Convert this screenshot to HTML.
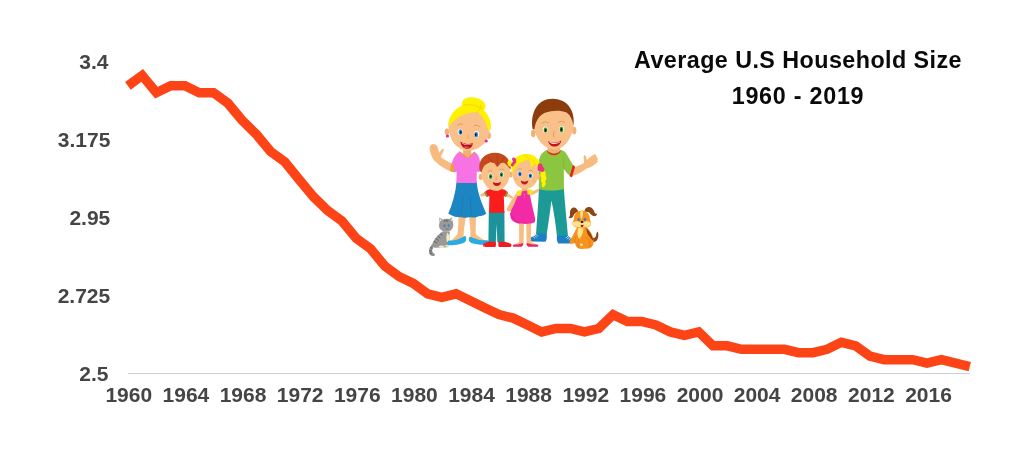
<!DOCTYPE html>
<html><head><meta charset="utf-8"><title>Average U.S Household Size</title>
<style>
html,body{margin:0;padding:0;background:#fff;}
body{width:1024px;height:457px;position:relative;overflow:hidden;font-family:"Liberation Sans",sans-serif;font-weight:bold;}
.yl,.xl,.title{filter:blur(0.35px);}
.yl{position:absolute;width:80px;text-align:center;font-size:21px;line-height:24px;height:24px;color:#454545;white-space:nowrap;}
.xl{position:absolute;top:383px;width:60px;text-align:center;font-size:21px;line-height:24px;height:24px;color:#454545;white-space:nowrap;}
.title{position:absolute;left:598px;width:400px;text-align:center;color:#0a0a0a;font-size:23.3px;letter-spacing:0.45px;line-height:36px;white-space:nowrap;}
#axis{position:absolute;left:127.5px;top:373px;width:842px;height:1px;background:#cfcfcf;}
svg{position:absolute;left:0;top:0;}
</style></head><body>
<div id="axis"></div>
<div class="yl" style="left:53.85px;top:50.00px">3.4</div>
<div class="yl" style="left:44.15px;top:128.00px">3.175</div>
<div class="yl" style="left:49.85px;top:205.75px">2.95</div>
<div class="yl" style="left:43.95px;top:283.55px">2.725</div>
<div class="yl" style="left:53.85px;top:361.55px">2.5</div>

<div class="xl" style="left:98.8px">1960</div>
<div class="xl" style="left:155.9px">1964</div>
<div class="xl" style="left:213.0px">1968</div>
<div class="xl" style="left:270.2px">1972</div>
<div class="xl" style="left:327.3px">1976</div>
<div class="xl" style="left:384.4px">1980</div>
<div class="xl" style="left:441.5px">1984</div>
<div class="xl" style="left:498.6px">1988</div>
<div class="xl" style="left:555.8px">1992</div>
<div class="xl" style="left:612.9px">1996</div>
<div class="xl" style="left:670.0px">2000</div>
<div class="xl" style="left:727.1px">2004</div>
<div class="xl" style="left:784.2px">2008</div>
<div class="xl" style="left:841.4px">2012</div>
<div class="xl" style="left:898.5px">2016</div>

<div class="title" style="top:42px">Average U.S Household Size</div>
<div class="title" style="top:78px;letter-spacing:0.75px">1960 - 2019</div>
<svg width="1024" height="457" viewBox="0 0 1024 457">
<polyline fill="none" stroke="#fd4417" stroke-width="9.5" stroke-linejoin="miter" stroke-miterlimit="10" stroke-linecap="butt" points="127.9,85.8 142.2,75.4 156.4,92.7 170.7,85.8 185.0,85.8 199.2,92.7 213.5,92.7 227.8,103.1 242.1,120.4 256.3,134.3 270.6,151.6 284.9,162.0 299.1,179.4 313.4,196.7 327.7,210.6 341.9,221.0 356.2,238.3 370.5,248.7 384.8,266.1 399.0,276.5 413.3,283.4 427.6,293.8 441.8,297.3 456.1,293.8 470.4,300.7 484.6,307.7 498.9,314.6 513.2,318.1 527.5,325.0 541.7,331.9 556.0,328.5 570.3,328.5 584.5,331.9 598.8,328.5 613.1,314.6 627.4,321.5 641.6,321.5 655.9,325.0 670.2,331.9 684.4,335.4 698.7,331.9 713.0,345.8 727.2,345.8 741.5,349.3 755.8,349.3 770.0,349.3 784.3,349.3 798.6,352.7 812.9,352.7 827.1,349.3 841.4,342.3 855.7,345.8 869.9,356.2 884.2,359.7 898.5,359.7 912.8,359.7 927.0,363.1 941.3,359.7 955.6,363.1 969.8,366.6"/>
<defs><filter id="soft" x="-5%" y="-5%" width="110%" height="110%"><feGaussianBlur stdDeviation="0.45"/></filter></defs>
<g id="family" filter="url(#soft)">

<!-- ================= CAT ================= -->
<g id="cat">
  <path d="M433.4,243.6 C430.4,245.6 428.4,249.4 429.2,253 C429.8,255.8 432.8,256.8 434.6,255.4 C435.4,254.6 434.8,253.6 433.8,253.4 C432.4,252.8 431.8,250.8 432.4,249 C433,247.4 434.4,246.4 435.6,245.6 Z" fill="#8f8f8f"/>
  <path d="M443,231.2 C439,233.6 434.6,238.4 432.8,242.6 C431.6,245.6 432.4,247.6 435,247.8 L447.4,247.2 C449.4,246.4 449.6,243.6 449.2,240 L449.8,231.4 Z" fill="#999999"/>
  <path d="M447.4,232.4 C446,235.4 446,239.6 447.2,242.6 C448.8,241.6 449.6,238.6 449.4,235.4 Z" fill="#f3ecb8"/>
  <path d="M438.6,246.4 C440,245.2 443.2,245.2 444.2,246.6 C443.6,248.2 439.6,248.4 438.6,246.4 Z M444.6,245.6 C445.6,244.6 448.6,244.8 449.2,246 C448.4,247.2 445.6,247.2 444.6,245.6 Z" fill="#f3ecb8"/>
  <path d="M439.6,222.4 L439.2,217.6 L442.6,219.6 C444.8,218.6 447.6,218.6 449.6,219.2 L451.6,217.2 L452.8,221.8 C454,225 453.2,229.2 450.2,230.8 C446.6,232.4 441.6,231.6 439.8,228.6 C438.8,226.6 438.8,224.2 439.6,222.4 Z" fill="#9a9a9a"/>
  <path d="M439.8,218.8 L441.8,220.2 L440.2,221.4 Z M451.4,218.4 L452.2,221 L450.4,220.2 Z" fill="#f3ecb8"/>
  <ellipse cx="444.5" cy="225.8" rx="1.2" ry="1.5" fill="#5a7fb8"/><ellipse cx="448.7" cy="225.4" rx="1.1" ry="1.5" fill="#5a7fb8"/>
  <path d="M445.6,228.6 Q447,229.8 448.6,228.4" stroke="#555" stroke-width="0.5" fill="none"/>
  <path d="M435.6,238.6 L438.6,240.4 M434,241.2 L437,243 M437.6,236 L440.4,238 M440,233.6 L442.6,235.4 M444.4,220 L445,221.8 M446.2,219.6 L446.4,221.6 M448,219.8 L447.6,221.6" stroke="#5c5c5c" stroke-width="0.9" fill="none"/>
  <path d="M430,247.4 L432.6,248.6 M429.2,250.6 L432,251 M429.8,253.6 L432.4,253" stroke="#5c5c5c" stroke-width="0.8"/>
</g>

<!-- ================= MOM ================= -->
<g id="mom">
  <!-- raised left arm + hand -->
  <path d="M451.6,172 C445.4,169.6 439.4,165.6 434.6,160.8 L439,155.6 C443.4,159.4 448.4,162.4 454,164.4 Z" fill="#f7bb80"/>
  <path d="M434.4,161 C431.6,157.4 429.8,152.6 429.6,148.6 C429.5,146.2 430.6,144.6 432.4,144.2 C434.6,143.8 436.6,145 437.6,147 C438.4,148.8 438.8,151 439,152.8 C440,151.4 441.2,149.8 442.4,149 C443.6,148.4 444.4,149.4 443.8,150.6 C442.4,153.2 441.6,156.2 439.6,158.2 Z" fill="#f7bb80"/>
  <path d="M432,145.6 L433.4,150 M434.6,145 L435.6,149.6" stroke="#e9a86c" stroke-width="0.5" fill="none"/>
  
  <!-- legs -->
  <path d="M458.4,214 L466,214 C465.6,222 463.4,229 463.6,236.5 L457,240.4 L449.5,242 C452,239 455.6,237 457.2,234.4 C458.6,228 458.4,221 458.4,214 Z" fill="#f8bd83"/>
  <path d="M468.8,214 L476,214 C476,222 475.4,229 475.8,234 C478.8,237 483.4,239.4 487,242 L476,242 L470,238.6 C471.4,230 469.2,222 468.8,214 Z" fill="#f8bd83"/>
  <!-- shoes -->
  <path d="M465.4,235.8 C466.8,238.6 466.4,241.6 464.2,242.8 C459,245 452.6,245.8 448.4,245 C446.6,244 447,241.4 449.2,240.6 C452.6,240.8 457.4,239.6 460.2,238.2 C462.4,237.2 464.2,236.4 465.4,235.8 Z" fill="#29abe2"/>
  <path d="M469.4,236.8 C468.2,239.4 468.8,242 471.2,243 C476.6,244.8 483.6,245.2 488.2,244.4 C489.8,243.4 489.4,241 487.2,240.2 C483.4,240.6 478,239.8 475,238.4 C473,237.6 471,237.2 469.4,236.8 Z" fill="#29abe2"/>
  <!-- skirt -->
  <path d="M456.6,181.5 L476.6,181.5 C477.6,193 482,204 486.2,213.4 C483,216.6 479.6,215.4 476.8,217 C473.6,218.4 470.6,216.4 467.4,217.6 C464,218.6 461,216.4 458,217 C454.6,217.4 451.4,215.4 448.3,213.6 C452.4,204 455.6,193 456.6,181.5 Z" fill="#1f86c2"/>
  <path d="M463,196 L461.4,215.8 M470,196 L471.4,216" stroke="#1a73a8" stroke-width="0.6" fill="none"/>
  <!-- neck -->
  <path d="M463.4,146 L471,146 L471.4,155 C469,157.6 465.6,157.6 463,155 Z" fill="#f2b074"/>
  <!-- shirt -->
  <path d="M460,151.4 L467.8,157.2 L474.2,151.8 C476.6,153 478.4,155.2 479.4,158.4 C480.2,162.4 480.6,167 480.4,171 C479.2,172 477.8,172.2 476.8,171.6 L476.6,183 L456.4,183 L456.6,171.6 C454.6,172.6 452,172.2 450.6,170.8 C450.8,167.4 451.4,164 452.6,160.8 C454,156.4 456.6,153 460,151.4 Z" fill="#f772e2"/>
  <path d="M459.6,151.2 L467.8,157.4 L474.6,151.6 L475.2,152.6 L467.8,158.8 L459,152.2 Z" fill="#e8a525"/>
  <path d="M450.8,164.4 L454,165.2 C453.6,167.4 453.6,169.8 454,172.2 C452.6,172.2 451.2,171.6 450.4,170.8 C450.4,168.6 450.6,166.4 450.8,164.4 Z" fill="#e8a525"/>
  <!-- head -->
  <ellipse cx="446.9" cy="131.8" rx="2.2" ry="3.4" fill="#f2b074"/>
  <ellipse cx="488.7" cy="135.6" rx="2.2" ry="3.4" fill="#f2b074"/>
  <path d="M448.4,124 C448.6,116 456,108 468,108 C480,108 489.6,117 489.6,129 C489.6,141 480,151 467.4,150.6 C456,150.2 448,138 448.4,124 Z" fill="#f9c089"/>
  <circle cx="447.5" cy="136" r="1.6" fill="#ef1fa6"/><circle cx="486.2" cy="141" r="1.6" fill="#ef1fa6"/>
  <!-- hair -->
  <path d="M462,105.4 C460.6,100.6 465.6,97 471.4,97.2 C478.6,97.4 486,101 485.6,106.4 C485.4,108 484.6,109.2 483.6,110 C488,114 491.4,121 491,127.6 C490.8,129.4 489.6,130.6 488.4,130.4 C486.6,123 482.6,116 477.6,112 C466,112.4 455,117 449.4,126.4 L448.6,124 C449,116 454.6,108.6 462,105.4 Z" fill="#fff100"/>
  <path d="M463,105.6 C468,103.6 476,104.4 482.6,109.4 M477.4,112 C480,110 481,107.4 480.6,104.6" stroke="#e9cf00" stroke-width="0.7" fill="none"/>
  <!-- face features -->
  <path d="M457,125.6 Q460,122.6 463.2,124.4 M474,125.6 Q477.4,124.2 480.4,127" stroke="#d89a5c" stroke-width="0.9" fill="none"/>
  <ellipse cx="460.1" cy="131.8" rx="2.5" ry="3.1" fill="#fff"/><ellipse cx="476.6" cy="134.2" rx="2.5" ry="3.1" fill="#fff"/>
  <ellipse cx="460.4" cy="132" rx="1.9" ry="2.7" fill="#2b8ae0"/><ellipse cx="476.2" cy="134.4" rx="1.9" ry="2.7" fill="#2b8ae0"/>
  <ellipse cx="460.8" cy="132.4" rx="0.9" ry="1.4" fill="#111"/><ellipse cx="475.8" cy="134.8" rx="0.9" ry="1.4" fill="#111"/>
  <path d="M468.6,134.4 Q466.6,138.2 468.6,138.8" stroke="#e3a066" stroke-width="0.8" fill="none"/>
  <path d="M460.4,141.6 C463.6,144.2 469,145 472.8,143 C472.6,147 469.8,149.2 466.4,148.8 C463.2,148.4 460.8,145.4 460.4,141.6 Z" fill="#b80f18"/>
  <path d="M463.4,147 C465,146 467.6,146.2 469.4,147.4 C468,148.8 465,148.8 463.4,147 Z" fill="#f0484a"/>
  <path d="M461.8,142.8 C464.6,144.6 468.6,145.2 471.8,144 L471.6,144.5 C468.6,145.6 464.6,145.2 462,143.4 Z" fill="#fff" opacity="0.8"/>
</g>

<!-- ================= DAD ================= -->
<g id="dad">
  <!-- legs -->
  <path d="M538.9,188 L563.8,188 C565,204 566.6,221 568,236.4 L557,236.4 C555.6,224 553.8,211 551.4,200.6 C550,212 548.4,224 546.6,235 L536,234.6 C537,219 538.4,204 538.9,188 Z" fill="#1b9a96"/>
  <!-- shoes -->
  <path d="M546.4,233.8 C547.4,236.6 546.8,240 545.4,241.8 L532,241.4 C529.6,240.6 529.4,238.4 531.2,237.2 C534,235.6 536.2,234.4 537.4,233.4 Z" fill="#1f7fc4"/>
  <path d="M557,235.6 C556.4,238.4 557,241.8 558.2,243.4 L572.2,243.4 C574.6,242.6 574.8,240.2 573,239 C570.4,237.6 568.6,236.4 567.8,235.4 Z" fill="#1f7fc4"/>
  <path d="M532.4,236 L535,238.4 M534,235 L536.6,237.4 M535.8,234.2 L538,236.4 M571.2,237.8 L568.8,240 M569.6,236.8 L567.2,239 M568,236 L565.8,238" stroke="#fff" stroke-width="0.7"/>
  <!-- waving arm -->
  <path d="M572.6,167.6 C576.6,166.6 581,164.8 584.4,162.4 L588,167.6 C583.4,171.4 577,175 570.6,176.6 Z" fill="#f7bb80"/>
  <path d="M584,163.2 C584.2,160.6 583.6,158.2 583.6,156.4 C583.8,154.8 585.6,154.8 586,156.4 L587,160 C589,157.6 591.8,155.4 594.2,154.4 C595.8,154 596.6,155.2 595.8,156.2 C597.2,156 597.8,157.2 597,158.2 C598,158.4 598.2,159.6 597.4,160.4 C598,161 597.8,162 597,162.6 C594.6,165 591,167.6 587.8,168.2 Z" fill="#f7bb80"/>
  <!-- neck -->
  <path d="M547.6,144 L560,144 L560.4,152 C557,155.4 551,155.4 547.4,152 Z" fill="#f2b074"/>
  <!-- shirt -->
  <path d="M546.8,150 C550,154.6 557.6,154.8 560.8,150 C563.6,150.4 565.6,152 566.8,154.4 L573.6,166 L570.4,176.4 C568,174.6 565.6,171.6 563.8,169 L564,189 C556,191 546,191 538.8,189 L539,162 C539,156 542.4,152 546.8,150 Z" fill="#8cc63f"/>
  <path d="M546.6,149.8 C550,154.8 557.6,155 561,149.8 L560.2,152 C557,156.4 550.6,156.2 547.4,152 Z" fill="#e2281f"/>
  <path d="M572.8,165 L575.2,166.4 L572,177.6 L569.6,176.2 Z" fill="#e2281f"/>
  <path d="M563.8,169 L563.4,158" stroke="#78b02f" stroke-width="0.6"/>
  <!-- head -->
  <ellipse cx="533.2" cy="133.6" rx="2.2" ry="3.8" fill="#f2b074"/>
  <ellipse cx="574.2" cy="130.6" rx="2.2" ry="3.8" fill="#f2b074"/>
  <path d="M533.6,122 C534,108 543,103 553.4,103 C564,103 573.4,108 573.6,122 C573.8,136 565.6,149.2 554.4,149.2 C542.6,149.2 533.4,136 533.6,122 Z" fill="#f9c089"/>
  <!-- hair -->
  <path d="M532.6,129 C530,112 538,98.8 552.6,98.8 C566.6,98.8 575.6,110 573.4,125.6 C572.4,119.6 570.4,115.4 566.6,112.6 C560,109.6 551,110.6 545.6,112.6 C540,114.6 535.6,120 534.4,129.6 Z" fill="#8b3d10"/>
  <!-- features -->
  <path d="M541.6,123.6 Q545.2,120.4 548.8,122.8 M558,122.4 Q561.8,120 565.2,122.6" stroke="#d89a5c" stroke-width="0.9" fill="none"/>
  <ellipse cx="545.2" cy="129.8" rx="2.3" ry="3.2" fill="#fff"/><ellipse cx="561.7" cy="129.2" rx="2.3" ry="3.2" fill="#fff"/>
  <ellipse cx="545.4" cy="130" rx="1.8" ry="2.8" fill="#2ba33a"/><ellipse cx="561.5" cy="129.4" rx="1.8" ry="2.8" fill="#2ba33a"/>
  <ellipse cx="545.6" cy="130.2" rx="0.9" ry="1.5" fill="#111"/><ellipse cx="561.3" cy="129.6" rx="0.9" ry="1.5" fill="#111"/>
  <path d="M554.6,130.6 Q552.2,136 554.4,137.6" stroke="#dd9a60" stroke-width="0.9" fill="none"/>
  <path d="M548.2,141 C551.6,143.4 557.6,143.4 561.2,140.6 C560.6,144.6 557.8,146.6 554.6,146.6 C551.4,146.6 548.8,144.6 548.2,141 Z" fill="#c4121a"/>
  <path d="M549.4,141.8 C552.4,143.6 557,143.6 560,141.6 L559.6,142.6 C556.8,144.4 552.6,144.4 549.8,142.8 Z" fill="#fff"/>
</g>

<!-- ================= BOY ================= -->
<g id="boy">
  <!-- arms -->
  <path d="M485.2,192 L481,194 C479.8,195 480.2,196.8 481.8,196.6 L486,195.8 Z" fill="#f7bb80"/>
  <path d="M506.4,192.4 L512.6,196.4 C513.6,197.4 513,198.8 511.6,198.4 L505.8,196.2 Z" fill="#f7bb80"/>
  <!-- pants -->
  <path d="M488.8,211 L504.4,211 L504.6,242.6 L497.4,242.6 L496.6,224 L495.8,242.6 L488.4,242.6 Z" fill="#1b939b"/>
  <!-- shoes -->
  <path d="M488,241.8 L495.6,241.8 C496.2,243.6 496.2,245.4 495.4,246.9 L483.8,246.9 C482.4,246 482.6,244.2 484,243.4 Z" fill="#f01d24"/>
  <path d="M498.6,241.8 L505,241.8 L510.4,243.6 C511.8,244.4 512,246 510.8,246.9 L498.8,246.9 C498.2,245.4 498.2,243.6 498.6,241.8 Z" fill="#f01d24"/>
  <path d="M483.6,245 L485,246.8 L483.8,246.8 Z M510.6,246.8 L512,246.8 L511.4,245.2 Z" fill="#fff"/>
  <!-- neck -->
  <rect x="493" y="187.6" width="6" height="4.6" fill="#f2b074"/>
  <!-- shirt -->
  <path d="M492.4,189 C494.4,191.6 498.6,191.6 500.6,189 C503.6,189 506.2,190.2 507.8,192.4 L506,197 L503.8,196 L504.4,212.8 L489,212.8 L489.4,196 L486.6,197 L484.4,192.4 C486.2,190.2 489,189 492.4,189 Z" fill="#fb1c1c"/>
  <path d="M484.2,192.4 L485.4,191.6 L487.6,196.2 L486.4,197 Z M508,192.4 L506.8,191.6 L504.8,196 L506,196.8 Z" fill="#7ea83a"/>
  <!-- head -->
  <ellipse cx="480.6" cy="177" rx="2" ry="3" fill="#f2b074"/><ellipse cx="510.6" cy="174.6" rx="2" ry="3" fill="#f2b074"/>
  <path d="M481.4,172 C481.6,162 488,158 495.6,158 C503.4,158 510,162 510,172 C510,182.6 503.6,190.8 496,190.8 C488,190.8 481.4,182.6 481.4,172 Z" fill="#f9c089"/>
  <!-- hair -->
  <path d="M481.6,172.4 C480.4,171.6 479.6,170.6 479.4,169.4 C478,160 484.6,152.8 495.2,152.8 C504.6,152.8 511.6,159.6 510.6,169.8 C509.8,168.6 508.8,167.2 507.6,166 C506.6,164.6 505.4,163.6 504.2,163 C503.2,162.6 502,162.6 501,163 C499.8,164.4 498.4,166 497,167 C496.2,165.6 495.2,164 494,163 C492.4,162.2 490.6,162.2 489,162.8 C487,163.6 485.2,164.8 484,166.2 C482.8,168 482,170.2 481.6,172.4 Z" fill="#c4491a"/>
  <path d="M488,157 C490,159 491.6,161 492.6,163 M497,155 C497.6,158 497.6,161.6 497,165 M503.6,157.6 C503,159.6 502,161.6 501,163" stroke="#a83a10" stroke-width="0.7" fill="none"/>
  <!-- features -->
  <path d="M487.6,171.6 Q490,169.8 492.4,171.2 M499,169.8 Q501.6,168.2 504,169.8" stroke="#d89a5c" stroke-width="0.8" fill="none"/>
  <ellipse cx="490.5" cy="176.4" rx="2.1" ry="2.9" fill="#fff"/><ellipse cx="501.6" cy="174.4" rx="2.1" ry="2.9" fill="#fff"/>
  <ellipse cx="490.6" cy="176.6" rx="1.7" ry="2.5" fill="#2b9a44"/><ellipse cx="501.5" cy="174.6" rx="1.7" ry="2.5" fill="#2b9a44"/>
  <ellipse cx="490.8" cy="176.6" rx="0.7" ry="1.1" fill="#111"/><ellipse cx="501.3" cy="174.8" rx="0.7" ry="1.1" fill="#111"/>
  <path d="M496.6,176.6 Q495.2,179.6 496.8,180.2" stroke="#dd9a60" stroke-width="0.7" fill="none"/>
  <path d="M492.8,182 C495,183.6 498.8,183.4 501,181.4 C500.8,184.4 499,186 496.8,186 C494.6,186 493,184.4 492.8,182 Z" fill="#c4121a"/>
</g>

<!-- ================= GIRL ================= -->
<g id="girl">
  <!-- arms -->
  <path d="M516.4,193 C513,197.4 509.6,203 507.4,207.4 C506.2,209.6 507,211.8 509.2,211.6 C511,211.4 512,210.2 512,208.8 C514,204.4 517,199.8 520,196.2 Z" fill="#f7bb80"/>
  <path d="M530,192.6 L538.4,188.8 L539.4,191.2 L531.4,195.6 Z" fill="#f7bb80"/>
  <!-- legs -->
  <path d="M519,222 L524,222 L523.6,243.4 L518.2,244.8 L514,245 C515.6,243.6 518.2,243 519.2,241.6 Z" fill="#f8bd83"/>
  <path d="M526.2,222 L531.2,222 L531,241.6 C532.4,243.2 535,243.8 537,245 L532,245 L526.6,243.4 Z" fill="#f8bd83"/>
  <!-- shoes -->
  <path d="M523.2,243 C523.4,244.6 522.8,246 521.6,246.8 L513.4,246.8 C512.4,246 512.8,244.8 514,244.4 C517,244.8 520.6,244 523.2,243 Z" fill="#e8265c"/>
  <path d="M526.6,243 C526.4,244.6 527,246 528.2,246.8 L537.8,246.8 C538.8,246 538.4,244.8 537.2,244.4 C534,244.8 529.4,244 526.6,243 Z" fill="#e8265c"/>
  <!-- pigtail right -->
  <path d="M540,168.6 C544,169.6 546.6,172.6 545.6,175.6 C547,177.6 546.6,180 545.2,181.4 C546.4,183.4 545.4,186 543.2,187.4 C541.6,186.4 541.4,184.4 542.2,183 C540.6,181.6 540.6,179.4 541.6,178 C540,176.4 540,174 541,172.4 Z" fill="#fff100"/>
  <!-- neck -->
  <rect x="521.8" y="186" width="5.6" height="5" fill="#f2b074"/>
  <!-- dress -->
  <path d="M518.8,191.4 L529.4,190.4 C530.4,199 533,209 535.2,219 C535.6,221.6 534.6,223 532.4,223 C530.6,224 528.6,223.4 527,223.8 C525,224.4 523,223.6 521,223.6 C518.6,224 516.4,223 514.6,222 C512,221 510.6,218.6 510.4,216 C510,213 511,211 511.6,209 C514.6,203.6 517.4,197.6 518.8,191.4 Z" fill="#f22aa6"/>
  <path d="M510.4,213 C511.6,217.6 514.6,221 519,222.4" stroke="#c91c86" stroke-width="0.7" fill="none"/>
  <path d="M516.2,192.8 C517.2,190.6 520,189.6 522.2,190.2 L521,195.6 L517.6,196.2 Z M527,189.8 C529.6,188.8 532.4,189.6 533.2,191.6 L531.4,194.8 L527.6,194.4 Z" fill="#f4e526"/>
  <circle cx="524.4" cy="194.6" r="0.6" fill="#f6a43a"/><circle cx="524.6" cy="197" r="0.6" fill="#f6a43a"/>
  <!-- head -->
  <ellipse cx="538.6" cy="177" rx="1.8" ry="2.8" fill="#f2b074"/>
  <path d="M512,171 C512,162.6 518,158.6 525.6,158.6 C533,158.6 539,162.6 539,172 C539,182 532.6,189 525.2,189 C517.6,189 512,181 512,171 Z" fill="#f9c089"/>
  <!-- hair -->
  <path d="M512.2,173.6 C509.6,163 515.6,154 526,154 C536,154 542.6,161.6 540.2,172.4 C539,168.6 537,165.6 534.6,163.6 C533.6,165.6 532,167 530.6,167.6 C531,165 530.6,162 529.4,160 C524,159.6 516.6,163.6 513.6,171 Z" fill="#fff100"/>
  <path d="M529.4,160 C528,157.6 526,156 524,155.2 M534.6,163.6 C533.6,160.6 531.6,158 529.4,156.4" stroke="#e9cf00" stroke-width="0.6" fill="none"/>
  <!-- pigtail left + bows -->
  <path d="M508.2,160.6 C510.6,159.6 512.6,161.6 512.2,164.6 C511.6,166.6 509.4,167 508.2,165.4 C507.2,164 507.2,161.8 508.2,160.6 Z" fill="#fff100"/>
  <path d="M512.6,157.6 C514.6,157 516.2,158.4 516,160.4 C516.6,161.6 516.2,163 515.2,163.6 L513,166.4 C511.4,166.8 510.4,165.6 511,164.2 L513,161.6 C512,160.4 511.8,158.8 512.6,157.6 Z" fill="#e8347f"/>
  <path d="M538.8,163.4 C540.8,163 542.6,164.4 542.6,166.4 C544.2,167.4 545,169.4 544,171 C543,172.4 541.2,172.2 540.4,171 C539.2,171.6 538,171 537.8,169.6 C537.4,167.4 537.6,165 538.8,163.4 Z" fill="#e8347f"/>
  <!-- features -->
  <path d="M517.6,169.6 Q519.6,168 521.8,169.2 M528.6,170.6 Q530.8,169.4 532.8,171.2" stroke="#d89a5c" stroke-width="0.8" fill="none"/>
  <ellipse cx="519.8" cy="173.8" rx="2.1" ry="2.8" fill="#fff"/><ellipse cx="530.5" cy="175.6" rx="2.1" ry="2.8" fill="#fff"/>
  <ellipse cx="519.9" cy="174" rx="1.7" ry="2.4" fill="#2b7fd6"/><ellipse cx="530.4" cy="175.8" rx="1.7" ry="2.4" fill="#2b7fd6"/>
  <ellipse cx="520" cy="174.2" rx="0.7" ry="1.1" fill="#111"/><ellipse cx="530.2" cy="175.8" rx="0.7" ry="1.1" fill="#111"/>
  <ellipse cx="516" cy="179" rx="1.6" ry="1.2" fill="#f7a98a" opacity="0.7"/><ellipse cx="534" cy="181" rx="1.6" ry="1.2" fill="#f7a98a" opacity="0.7"/>
  <path d="M520.8,180.6 C523,182 526,182 528.4,180.6 C528,183.4 526.4,184.6 524.6,184.6 C522.6,184.6 521,183.2 520.8,180.6 Z" fill="#c4121a"/>
</g>

<!-- ================= DOG ================= -->
<g id="dog">
  <!-- tail -->
  <path d="M591.6,237.6 C594,239 596,237.4 596.2,234.8 C596.4,233 597,232 597.8,231.6 C598.8,234.6 598.6,238.8 596.6,240.8 C594.8,242.6 592.4,242 591.2,240.6 Z" fill="#8b4513"/>
  <!-- body -->
  <path d="M577.4,227 C574.6,231.6 572.4,236.6 570.4,240 C569,241.4 569.2,243 570.6,243.4 L575.2,243.2 C575.4,246 577,248.4 580.4,249 L589.4,248.4 C592.8,247.4 593.8,244 593.6,240.6 C593.2,235.6 590.6,231 587,227.4 Z" fill="#f7931e"/>
  <path d="M586,228 C589.6,231 592.6,236 593.4,240.8 C591.4,239.6 589,236.6 587.4,233.6 Z" fill="#8b4513"/>
  <path d="M578.6,227 C577,231 577,235.6 579,239 C581.6,236.6 583.4,232 583.6,227.4 Z" fill="#fbe38e"/>
  <ellipse cx="581.4" cy="244.8" rx="1.5" ry="1.4" fill="#fbe8b0"/>
  <path d="M578.6,239 C577.6,242 577.6,245.4 578.8,248 M585.4,237 C588.6,238.6 590.6,242.4 589.8,246.6 M576.4,236 C575,238.6 574.6,241 575.2,243.2" stroke="#d9730f" stroke-width="0.6" fill="none"/>
  <!-- ears -->
  <path d="M578.2,211.6 C577.4,208.6 575,206.8 572.6,207.8 C570.4,208.8 569.8,211.6 570,214 C570,215.8 569.6,217 568.6,217.8 C570.6,218.8 573,217.8 573.6,215.6 C574,214.4 574.6,213.4 575.6,213 Z" fill="#8b4513"/>
  <path d="M584.4,211.4 C584.6,208.4 587,206.6 589.6,207 C592.6,207.6 594,210.4 594.6,212.4 C595.2,213.6 596,214 597,213.4 C597,215.4 595.4,216.6 593.4,216 C591,215.2 590.2,213.2 588.8,212.2 Z" fill="#8b4513"/>
  <!-- head -->
  <path d="M574,218.6 C574,213.6 577.6,210.6 581.8,210.6 C586,210.6 589.8,213.6 589.8,218.6 C590,220.4 591,221.6 591,223.4 C591,226.4 587.4,228.2 582.2,228.2 C577,228.2 572.4,226.6 572.4,223.6 C572.4,221.8 574,220.4 574,218.6 Z" fill="#f7931e"/>
  <path d="M580.6,211 C579.8,213.4 580,216.6 581.4,219.4 C583,216.6 583.4,213.4 582.8,210.8 Z" fill="#fbe38e"/>
  <path d="M572.4,223.6 C572.4,221.8 575,220.8 578,221.4 C579.8,221.8 581.4,222.6 582,223.6 C582.6,222.6 584,221.8 585.6,221.4 C588.6,220.8 591,221.8 591,223.6 C591,226 587.8,227.4 582,227.4 C576.2,227.4 572.4,226 572.4,223.6 Z" fill="#fbe38e"/>
  <ellipse cx="578.7" cy="219.6" rx="1.3" ry="1.6" fill="#4a78c8"/><ellipse cx="584.9" cy="219.3" rx="1.3" ry="1.6" fill="#4a78c8"/>
  <ellipse cx="582" cy="222" rx="1.3" ry="1" fill="#111"/>
  <path d="M580.6,224.4 C581.4,225.2 582.8,225.2 583.6,224.4 C583.6,226.2 582.8,227 582,227 C581.2,227 580.6,226 580.6,224.4 Z" fill="#b5121a"/>
</g>
</g>

</svg>
</body></html>
